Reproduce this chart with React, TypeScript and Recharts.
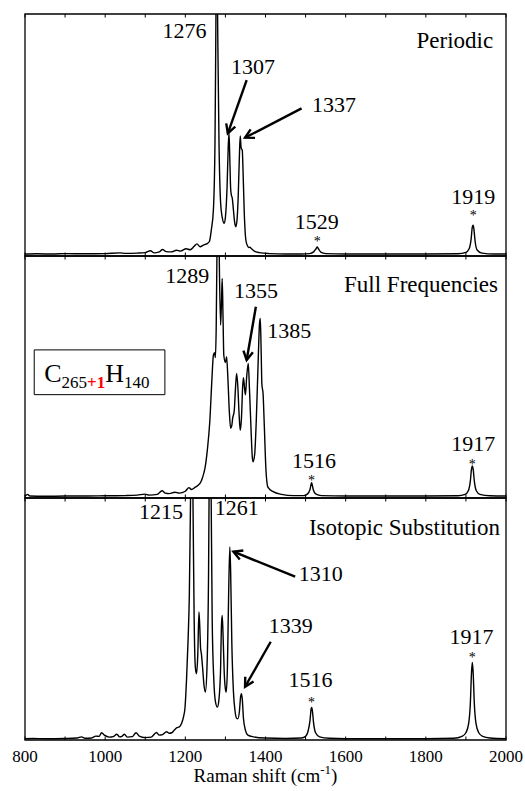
import React from 'react';
import { LineChart, Line, XAxis, YAxis, ReferenceLine, ReferenceDot, ReferenceArea, Label } from 'recharts';

const W = 525;
const H = 791;
const FONT = '"Liberation Serif", "Times New Roman", serif';
const PANEL_H = 242;

// ---------- data ----------
const periodicShift = [800, 830, 870, 900, 950, 1000, 1037, 1050, 1080, 1100, 1113, 1122, 1135, 1143, 1152, 1165, 1178, 1188, 1202, 1212, 1222, 1229, 1237, 1245, 1253, 1260, 1265, 1270, 1274, 1276, 1278, 1281, 1284, 1288, 1292, 1297, 1300, 1304, 1307, 1309, 1311, 1313, 1315, 1317, 1320, 1323, 1326, 1329, 1332, 1335, 1337, 1339, 1341, 1342, 1344, 1347, 1351, 1355, 1358, 1361, 1365, 1372, 1385, 1410, 1450, 1490, 1510, 1520, 1526, 1529, 1532, 1538, 1550, 1600, 1700, 1800, 1880, 1900, 1908, 1913, 1916, 1918, 1920, 1923, 1928, 1940, 1970, 2000];
const periodicIntensity = [0.008, 0.009, 0.008, 0.01, 0.009, 0.01, 0.013, 0.011, 0.012, 0.014, 0.022, 0.013, 0.017, 0.027, 0.018, 0.017, 0.024, 0.02, 0.03, 0.026, 0.04, 0.05, 0.038, 0.045, 0.05, 0.06, 0.11, 0.19, 0.47, 0.9, 1.4, 0.9, 0.47, 0.22, 0.16, 0.135, 0.16, 0.28, 0.45, 0.507, 0.4, 0.28, 0.25, 0.24, 0.19, 0.14, 0.121, 0.15, 0.25, 0.42, 0.496, 0.45, 0.44, 0.438, 0.35, 0.18, 0.066, 0.042, 0.035, 0.036, 0.03, 0.02, 0.014, 0.01, 0.008, 0.008, 0.01, 0.017, 0.03, 0.037, 0.03, 0.016, 0.01, 0.008, 0.008, 0.008, 0.009, 0.015, 0.03, 0.07, 0.12, 0.127, 0.11, 0.06, 0.025, 0.012, 0.008, 0.008];

const fullShift = [800, 807, 812, 850, 900, 950, 1000, 1050, 1080, 1099, 1110, 1130, 1142, 1150, 1160, 1174, 1185, 1200, 1209, 1215, 1225, 1237, 1243, 1249, 1255, 1261, 1266, 1270, 1273, 1275, 1277, 1280, 1282, 1285, 1288, 1290, 1292, 1294, 1296, 1300, 1303, 1306, 1310, 1313, 1316, 1318, 1322, 1325, 1328, 1331, 1334, 1337, 1340, 1343, 1345, 1348, 1350, 1353, 1357, 1360, 1364, 1367, 1369, 1373, 1377, 1382, 1385, 1387, 1389, 1391, 1394, 1397, 1401, 1406, 1419, 1440, 1470, 1495, 1505, 1511, 1515, 1519, 1525, 1540, 1600, 1700, 1800, 1880, 1898, 1906, 1911, 1914, 1916, 1918, 1921, 1926, 1935, 1960, 2000];
const fullIntensity = [0.008, 0.015, 0.008, 0.007, 0.008, 0.008, 0.009, 0.01, 0.012, 0.016, 0.012, 0.015, 0.03, 0.02, 0.018, 0.024, 0.02, 0.028, 0.043, 0.035, 0.045, 0.061, 0.085, 0.123, 0.2, 0.315, 0.48, 0.59, 0.6, 0.58, 0.7, 1.2, 1.4, 0.95, 0.715, 0.8, 0.907, 0.75, 0.59, 0.56, 0.584, 0.5, 0.35, 0.288, 0.3, 0.329, 0.36, 0.45, 0.515, 0.46, 0.35, 0.28, 0.33, 0.46, 0.497, 0.45, 0.426, 0.5, 0.556, 0.45, 0.28, 0.17, 0.15, 0.18, 0.32, 0.58, 0.72, 0.742, 0.62, 0.47, 0.43, 0.3, 0.12, 0.045, 0.026, 0.015, 0.01, 0.01, 0.017, 0.035, 0.063, 0.035, 0.017, 0.01, 0.008, 0.008, 0.008, 0.009, 0.015, 0.03, 0.07, 0.12, 0.132, 0.12, 0.07, 0.03, 0.015, 0.009, 0.008];

const isoShift = [800, 820, 850, 900, 930, 941, 950, 965, 977, 985, 991, 998, 1010, 1020, 1029, 1036, 1042, 1048, 1055, 1068, 1077, 1085, 1100, 1115, 1128, 1135, 1143, 1153, 1160, 1166, 1172, 1178, 1185, 1191, 1196, 1199, 1203, 1207, 1210, 1213, 1216, 1219, 1222, 1225, 1228, 1231, 1234, 1236, 1238, 1240, 1243, 1247, 1250, 1254, 1258, 1260, 1262, 1264, 1267, 1271, 1275, 1280, 1284, 1288, 1290, 1292, 1294, 1297, 1300, 1302, 1305, 1308, 1311, 1313, 1316, 1320, 1324, 1328, 1331, 1335, 1338, 1340, 1342, 1345, 1350, 1356, 1370, 1400, 1450, 1490, 1500, 1506, 1511, 1514, 1515.5, 1517, 1520, 1525, 1535, 1560, 1600, 1700, 1800, 1870, 1890, 1900, 1907, 1911, 1914, 1916, 1918, 1921, 1925, 1932, 1942, 1960, 2000];
const isoIntensity = [0.005, 0.006, 0.005, 0.006, 0.008, 0.013, 0.007, 0.008, 0.016, 0.015, 0.03, 0.02, 0.012, 0.014, 0.024, 0.013, 0.015, 0.024, 0.012, 0.014, 0.03, 0.016, 0.01, 0.012, 0.031, 0.02, 0.022, 0.034, 0.028, 0.03, 0.04, 0.05, 0.054, 0.07, 0.1, 0.13, 0.25, 0.42, 0.6, 1.0, 1.4, 1.0, 0.5, 0.3, 0.274, 0.35, 0.529, 0.47, 0.38, 0.357, 0.3, 0.22, 0.198, 0.3, 0.7, 1.2, 1.5, 1.1, 0.5, 0.25, 0.16, 0.136, 0.17, 0.3, 0.47, 0.515, 0.44, 0.28, 0.21, 0.198, 0.3, 0.6, 0.798, 0.7, 0.4, 0.2, 0.12, 0.09, 0.088, 0.12, 0.18, 0.191, 0.17, 0.09, 0.04, 0.02, 0.013, 0.008, 0.006, 0.008, 0.015, 0.035, 0.08, 0.13, 0.135, 0.12, 0.07, 0.03, 0.013, 0.007, 0.005, 0.005, 0.005, 0.007, 0.015, 0.03, 0.07, 0.15, 0.28, 0.32, 0.28, 0.15, 0.07, 0.03, 0.015, 0.008, 0.005];

const xTicks = [800, 900, 1000, 1100, 1200, 1300, 1400, 1500, 1600, 1700, 1800, 1900, 2000];
const xTickLabels = [800, 1000, 1200, 1400, 1600, 1800, 2000];

// ---------- annotations ----------
const periodicLabels = [
  { text: '1276', x: 1198, y: 0.901 },
  { text: '1307', x: 1369, y: 0.752 },
  { text: '1337', x: 1571, y: 0.595 },
  { text: '1529', x: 1528, y: 0.112 },
  { text: '1919', x: 1918, y: 0.215 },
];
const periodicStars = [{ x: 1529, y: 0.041 }, { x: 1918, y: 0.149 }];
const periodicArrows = [
  { x1: 1353, y1: 0.727, x2: 1306, y2: 0.507 },
  { x1: 1490, y1: 0.61, x2: 1349, y2: 0.489 },
];

const fullLabels = [
  { text: '1289', x: 1205, y: 0.89 },
  { text: '1355', x: 1376, y: 0.825 },
  { text: '1385', x: 1459, y: 0.662 },
  { text: '1516', x: 1521, y: 0.123 },
  { text: '1917', x: 1918, y: 0.194 },
];
const fullStars = [{ x: 1515, y: 0.052 }, { x: 1916, y: 0.121 }];
const fullArrows = [{ x1: 1376, y1: 0.79, x2: 1353, y2: 0.57 }];

const isoLabels = [
  { text: '1215', x: 1139, y: 0.913 },
  { text: '1261', x: 1328, y: 0.93 },
  { text: '1310', x: 1538, y: 0.657 },
  { text: '1339', x: 1463, y: 0.441 },
  { text: '1516', x: 1512, y: 0.22 },
  { text: '1917', x: 1914, y: 0.397 },
];
const isoStars = [{ x: 1515, y: 0.136 }, { x: 1916, y: 0.322 }];
const isoArrows = [
  { x1: 1474, y1: 0.675, x2: 1320, y2: 0.778 },
  { x1: 1413, y1: 0.406, x2: 1349, y2: 0.22 },
];

function rows(xs: number[], ys: number[]) {
  return xs.map((x, i) => ({ x, y: ys[i] }));
}

function makeTick(showLabels: boolean) {
  return (props: any) => {
    const { x, y, payload } = props;
    const v = payload.value;
    return (
      <g>
        <line x1={x} x2={x} y1={y} y2={y - 3.5} stroke="#000" strokeWidth={1} />
        <line x1={x} x2={x} y1={y - PANEL_H} y2={y - PANEL_H + 3.5} stroke="#000" strokeWidth={1} />
        {showLabels && xTickLabels.includes(v) ? (
          <text x={x} y={y + 22} textAnchor="middle" fontSize={17} fontFamily={FONT} fill="#000">
            {v}
          </text>
        ) : null}
      </g>
    );
  };
}

const arrowShape = (p: any) => {
  const { x1, y1, x2, y2 } = p;
  const ang = Math.atan2(y2 - y1, x2 - x1);
  const L = 10;
  const a = 0.5;
  const ax = x2 - L * Math.cos(ang - a);
  const ay = y2 - L * Math.sin(ang - a);
  const bx = x2 - L * Math.cos(ang + a);
  const by = y2 - L * Math.sin(ang + a);
  return (
    <g>
      <line x1={x1} y1={y1} x2={x2} y2={y2} stroke="#000" strokeWidth={2.4} />
      <polyline points={`${ax},${ay} ${x2},${y2} ${bx},${by}`} fill="none" stroke="#000" strokeWidth={2.4} strokeLinejoin="miter" />
    </g>
  );
};

const textShape = (text: string, size: number, anchor: string) => (p: any) => (
  <text x={p.cx} y={p.cy} textAnchor={anchor} fontSize={size} fontFamily={FONT} fill="#000">
    {text}
  </text>
);

const formulaShape = (p: any) => (
  <text x={p.cx} y={p.cy} fontFamily={FONT} fill="#000" fontSize={26}>
    <tspan>C</tspan>
    <tspan fontSize={17} dy={6}>265</tspan>
    <tspan fontSize={17} fill="#ff0000" fontWeight="bold">+1</tspan>
    <tspan fontSize={26} dy={-6}>H</tspan>
    <tspan fontSize={17} dy={6}>140</tspan>
  </text>
);

const axisTitle = (props: any) => {
  const vb = props.viewBox || {};
  const cx = vb.x + vb.width / 2;
  const y = vb.y + 42;
  return (
    <text x={cx} y={y} textAnchor="middle" fontFamily={FONT} fontSize={19} fill="#000">
      <tspan>Raman shift (cm</tspan>
      <tspan fontSize={13} dy={-8}>-1</tspan>
      <tspan dy={8}>)</tspan>
    </text>
  );
};

type PanelProps = {
  shift: number[];
  intensity: number[];
  top: number;
  labels: { text: string; x: number; y: number }[];
  stars: { x: number; y: number }[];
  arrows: { x1: number; y1: number; x2: number; y2: number }[];
  title: string;
  titleX: number;
  titleY: number;
  showAxis: boolean;
  formula?: boolean;
};

function Panel(props: PanelProps) {
  const { shift, intensity, top, labels, stars, arrows, title, titleX, titleY, showAxis, formula } = props;
  const data = rows(shift, intensity);
  return (
    <div style={{ position: 'absolute', left: 0, top: 0 }}>
      <LineChart
        width={W}
        height={H}
        data={data}
        margin={{ top, right: 19, left: 25, bottom: H - top - PANEL_H - 1 }}
      >
        <XAxis
          type="number"
          dataKey="x"
          domain={[800, 2000]}
          ticks={xTicks}
          interval={0}
          height={1}
          tickSize={0}
          tickMargin={0}
          axisLine={false}
          tickLine={false}
          tick={makeTick(showAxis)}
        >
          {showAxis ? <Label content={axisTitle} /> : null}
        </XAxis>
        <YAxis hide domain={[0, 1]} allowDataOverflow type="number" />
        <ReferenceArea x1={800} x2={2000} y1={0} y2={1} fill="none" fillOpacity={0} stroke="#000" strokeWidth={1.3} />
        {formula ? (
          <ReferenceArea x1={823} x2={1149} y1={0.427} y2={0.612} fill="#fff" fillOpacity={1} stroke="#000" strokeWidth={1} />
        ) : null}
        {formula ? <ReferenceDot x={848} y={0.48} r={1} shape={formulaShape} /> : null}
        <Line
          type="monotone"
          dataKey="y"
          stroke="#000"
          strokeWidth={1.4}
          dot={false}
          isAnimationActive={false}
        />
        {labels.map((l, i) => (
          <ReferenceDot key={'l' + i} x={l.x} y={l.y} r={1} shape={textShape(l.text, 22, 'middle')} />
        ))}
        {stars.map((s, i) => (
          <ReferenceDot key={'s' + i} x={s.x} y={s.y} r={1} shape={textShape('*', 14, 'middle')} />
        ))}
        {arrows.map((a, i) => (
          <ReferenceLine
            key={'a' + i}
            segment={[{ x: a.x1, y: a.y1 }, { x: a.x2, y: a.y2 }]}
            shape={arrowShape}
          />
        ))}
        <ReferenceDot x={titleX} y={titleY} r={1} shape={textShape(title, 23, 'end')} />
      </LineChart>
    </div>
  );
}

export default function App() {
  return (
    <div style={{ position: 'absolute', left: 0, top: 0, width: W, height: H, background: '#fff' }}>
      <Panel
        shift={periodicShift}
        intensity={periodicIntensity}
        top={14}
        labels={periodicLabels}
        stars={periodicStars}
        arrows={periodicArrows}
        title="Periodic"
        titleX={1968}
        titleY={0.86}
        showAxis={false}
      />
      <Panel
        shift={fullShift}
        intensity={fullIntensity}
        top={256}
        labels={fullLabels}
        stars={fullStars}
        arrows={fullArrows}
        title="Full Frequencies"
        titleX={1980}
        titleY={0.852}
        showAxis={false}
        formula
      />
      <Panel
        shift={isoShift}
        intensity={isoIntensity}
        top={498}
        labels={isoLabels}
        stars={isoStars}
        arrows={isoArrows}
        title="Isotopic Substitution"
        titleX={1985}
        titleY={0.847}
        showAxis={true}
      />
    </div>
  );
}
